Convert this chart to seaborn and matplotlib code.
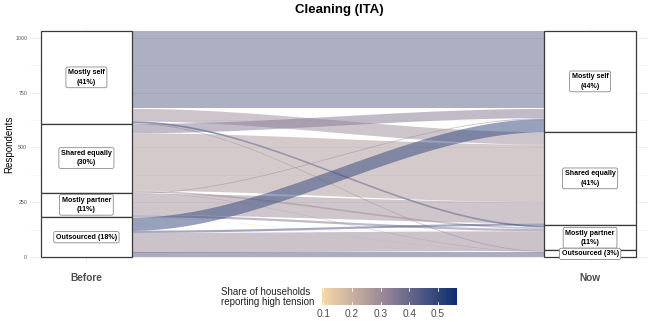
import numpy as np
import pandas as pd
import matplotlib
matplotlib.use("Agg")
import matplotlib.pyplot as plt
import seaborn as sns
from matplotlib.patches import Rectangle
from matplotlib.colors import Normalize
from matplotlib.cm import ScalarMappable

# ---------------- data ----------------
categories = ["Mostly self", "Shared equally", "Mostly partner", "Outsourced"]
axis_labels = ["Before", "Now"]
# respondents moving from "Before" category (rows) to "Now" category (cols)
flow_self = [352, 57, 8, 4]
flow_shared = [42, 262, 8, 2]
flow_partner = [4, 96, 10, 2]
flow_outsourced = [60, 10, 90, 23]
# share of households reporting high tension for each flow
tension_self = [0.42, 0.30, 0.565, 0.30]
tension_shared = [0.35, 0.27, 0.30, 0.30]
tension_partner = [0.30, 0.29, 0.36, 0.095]
tension_outsourced = [0.50, 0.45, 0.31, 0.43]
colorbar_ticks = [0.1, 0.2, 0.3, 0.4, 0.5]
y_ticks = [0, 250, 500, 750, 1000]

counts = np.array([flow_self, flow_shared, flow_partner, flow_outsourced], dtype=float)
tension = np.array([tension_self, tension_shared, tension_partner, tension_outsourced])

rows = []
for i, a in enumerate(categories):
    for j, b in enumerate(categories):
        rows.append(dict(before=a, now=b, i=i, j=j, n=counts[i, j], tension=tension[i, j]))
flows = pd.DataFrame(rows)

# ---------------- style ----------------
sns.set_theme(style="whitegrid")
plt.rcParams['font.family'] = ['Liberation Sans', 'DejaVu Sans']

cmap = sns.blend_palette(["#F8D9A8", "#8F8096", "#0B2D6F"], as_cmap=True)
tmin, tmax = tension.min(), tension.max()
norm = Normalize(vmin=tmin, vmax=tmax)

fig = plt.figure(figsize=(6.5, 3.27), dpi=100)
ax = fig.add_axes([30 / 650, 1 - 262 / 327, 618 / 650, 235 / 327])
ax.set_facecolor("white")

w = 0.181
total = counts.sum()
before_tot = counts.sum(axis=1)
now_tot = counts.sum(axis=0)

def strata_tops(tots):
    tops = []
    acc = total
    for t in tots:
        tops.append(acc)
        acc -= t
    return tops

left_tops = strata_tops(before_tot)
right_tops = strata_tops(now_tot)

# lode positions (ordered top->bottom by the other axis' stratum)
left_pos = {}
for i in range(4):
    y = left_tops[i]
    for j in range(4):
        left_pos[(i, j)] = (y, y - counts[i, j])
        y -= counts[i, j]
right_pos = {}
for j in range(4):
    y = right_tops[j]
    for i in range(4):
        right_pos[(i, j)] = (y, y - counts[i, j])
        y -= counts[i, j]

x0, x1 = 1 + w / 2, 2 - w / 2
xs = np.linspace(x0, x1, 200)
t = (xs - x0) / (x1 - x0)
s = 3 * t ** 2 - 2 * t ** 3

for _, r in flows.iterrows():
    if r.n <= 0:
        continue
    key = (int(r.i), int(r.j))
    lt, lb = left_pos[key]
    rt, rb = right_pos[key]
    top = lt + (rt - lt) * s
    bot = lb + (rb - lb) * s
    ax.fill_between(xs, bot, top, color=cmap(norm(r.tension)), alpha=0.5, lw=0, zorder=2)

# strata boxes and labels
for xc, tots, tops in [(1, before_tot, left_tops), (2, now_tot, right_tops)]:
    for k, cat in enumerate(categories):
        h = tots[k]
        bottom = tops[k] - h
        ax.add_patch(Rectangle((xc - w / 2, bottom), w, h, facecolor="white",
                               edgecolor="#3a3a3a", lw=0.9, zorder=3))
        pct = int(round(100 * h / total))
        if cat == "Outsourced":
            lab = f"{cat} ({pct}%)"
        else:
            lab = f"{cat}\n({pct}%)"
        ax.text(xc, bottom + h / 2, lab, ha="center", va="center", fontsize=5.1,
                fontweight="bold", color="black", zorder=5, linespacing=1.5,
                bbox=dict(boxstyle="round,pad=0.3,rounding_size=0.25", fc="white",
                          ec="#8a8a8a", lw=0.6))

ax.set_xlim(0.888, 2.115)
ax.set_ylim(-21.4, 1048.7)
ax.set_xticks([1, 2])
ax.set_xticklabels(axis_labels, fontsize=7.3, fontweight="bold", color="#4d4d4d")
ax.set_yticks(y_ticks)
ax.set_yticklabels([str(v) for v in y_ticks], fontsize=3.8, color="#555555")
ax.set_yticks([125, 375, 625, 875], minor=True)
ax.tick_params(axis="both", length=0, pad=2)
ax.tick_params(axis="x", pad=8)
ax.grid(True, which="major", color="#EBEBEB", lw=0.6, zorder=0)
ax.grid(True, which="minor", axis="y", color="#F2F2F2", lw=0.4, zorder=0)
ax.set_axisbelow(True)
for sp in ax.spines.values():
    sp.set_visible(False)
ax.set_ylabel("Respondents", fontsize=7, color="black", labelpad=1)
ax.set_xlabel("")

fig.text(339 / 650, 1 - 10 / 327, "Cleaning (ITA)", ha="center", va="center",
         fontsize=9.5, fontweight="bold", color="black")

# colorbar legend
cax = fig.add_axes([321.7 / 650, 1 - 305 / 327, 135 / 650, 17.5 / 327])
sm = ScalarMappable(norm=norm, cmap=cmap)
cb = fig.colorbar(sm, cax=cax, orientation="horizontal", ticks=colorbar_ticks)
cb.outline.set_visible(False)
cax.tick_params(length=0, labelsize=7.3, labelcolor="#4d4d4d", pad=3)
cax.set_xticklabels([f"{v:.1f}" for v in colorbar_ticks])
for v in colorbar_ticks:
    cax.plot([v, v], [0, 0.2], color="white", lw=0.6)
    cax.plot([v, v], [0.8, 1], color="white", lw=0.6)
fig.text(220.7 / 650, 1 - 297 / 327, "Share of households\nreporting high tension",
         ha="left", va="center", fontsize=7, color="#222222", linespacing=1.1)

fig.savefig("out.png", dpi=100)
